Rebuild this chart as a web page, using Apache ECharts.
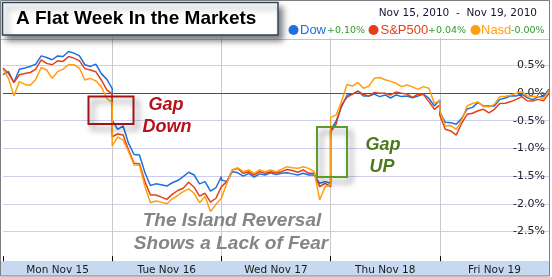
<!DOCTYPE html>
<html><head><meta charset="utf-8">
<script src="https://cdn.jsdelivr.net/npm/echarts@6/dist/echarts.min.js"></script>
<style>html,body{margin:0;padding:0;background:#fff}#c{width:552px;height:277px}</style>
</head><body><div id="c"></div>
<script>
// Day labels (x axis categories)
var days = ['Mon Nov 15', 'Tue Nov 16', 'Wed Nov 17', 'Thu Nov 18', 'Fri Nov 19'];
// Y tick labels (percent)
var yTicks = [-2.5, -2.0, -1.5, -1.0, -0.5, 0.0, 0.5];
// 21 samples per trading day (open to close), % change
var dowMon = [0.33,0.385,0.19,0.43,0.45,0.48,0.52,0.67,0.64,0.60,0.67,0.66,0.75,0.72,0.67,0.51,0.48,0.52,0.35,0.25,0.08];
var dowTue = [-0.49,-0.655,-0.595,-0.91,-1.11,-1.12,-1.44,-1.67,-1.64,-1.655,-1.68,-1.62,-1.58,-1.51,-1.43,-1.48,-1.64,-1.60,-1.77,-1.71,-1.51];
var dowWed = [-1.57,-1.60,-1.42,-1.44,-1.50,-1.45,-1.52,-1.46,-1.48,-1.44,-1.47,-1.45,-1.44,-1.46,-1.48,-1.45,-1.48,-1.48,-1.63,-1.60,-1.63];
var dowThu = [-0.67,-0.51,-0.25,-0.04,-0.02,0.035,-0.055,-0.055,-0.02,-0.065,-0.035,-0.09,-0.035,-0.065,-0.055,-0.085,-0.055,-0.02,-0.095,-0.235,-0.125];
var dowFri = [-0.34,-0.53,-0.535,-0.565,-0.46,-0.29,-0.26,-0.17,-0.235,-0.235,-0.235,-0.115,-0.09,-0.05,-0.055,-0.02,-0.085,-0.12,-0.07,-0.065,0.07];

var spMon = [0.45,0.355,0.19,0.33,0.35,0.37,0.43,0.60,0.535,0.51,0.58,0.57,0.66,0.63,0.58,0.44,0.415,0.385,0.235,0.055,-0.02];
var spTue = [-0.79,-0.74,-0.76,-1.03,-1.27,-1.275,-1.60,-1.84,-1.84,-1.88,-1.92,-1.83,-1.76,-1.72,-1.61,-1.70,-1.86,-1.81,-1.97,-1.90,-1.69];
var spWed = [-1.68,-1.60,-1.39,-1.36,-1.45,-1.42,-1.48,-1.42,-1.45,-1.42,-1.44,-1.42,-1.38,-1.40,-1.43,-1.39,-1.45,-1.45,-1.69,-1.63,-1.69];
var spThu = [-0.70,-0.565,-0.215,-0.08,-0.02,0.035,-0.025,-0.055,0.01,-0.005,-0.005,-0.035,0.02,-0.005,-0.02,-0.08,-0.02,-0.025,-0.155,-0.295,-0.215];
var spFri = [-0.40,-0.655,-0.685,-0.76,-0.55,-0.385,-0.365,-0.32,-0.295,-0.36,-0.295,-0.19,-0.185,-0.155,-0.115,-0.065,-0.14,-0.145,-0.115,-0.14,-0.005];

var nasdMon = [0.43,0.265,-0.05,0.205,0.155,0.14,0.245,0.46,0.415,0.265,0.385,0.43,0.51,0.51,0.45,0.235,0.265,0.22,0.115,-0.095,-0.175];
var nasdTue = [-0.96,-0.79,-0.85,-1.06,-1.30,-1.305,-1.69,-1.98,-1.95,-1.97,-2.00,-1.91,-1.85,-1.78,-1.73,-1.81,-1.98,-1.87,-2.14,-2.01,-1.90];
var nasdWed = [-1.90,-1.63,-1.39,-1.35,-1.42,-1.39,-1.45,-1.39,-1.42,-1.39,-1.42,-1.38,-1.33,-1.35,-1.36,-1.33,-1.36,-1.42,-1.93,-1.69,-1.66];
var nasdThu = [-0.44,-0.40,-0.155,0.155,0.125,0.19,0.085,0.125,0.265,0.28,0.24,0.21,0.175,0.115,0.145,0.11,0.065,0.115,0.085,-0.185,-0.14];
var nasdFri = [-0.31,-0.595,-0.585,-0.655,-0.49,-0.235,-0.19,-0.16,-0.245,-0.25,-0.205,-0.065,-0.06,-0.04,-0.005,0.025,-0.055,-0.065,-0.065,-0.11,0.04];

// Legend texts
var seriesNames = ['Dow', 'S&P500', 'Nasd'];
var weekChange = ['+0.10%', '+0.04%', '-0.00%'];
var dateRange = 'Nov 15, 2010  -  Nov 19, 2010';
var titleText = 'A Flat Week In the Markets';

function build(perDay) {
  var out = [];
  for (var d = 0; d < perDay.length; d++) {
    var arr = perDay[d];
    for (var k = 0; k < arr.length; k++) {
      out.push([d + k / (arr.length - 1), arr[k]]);
    }
  }
  return out;
}
var dowData = build([dowMon, dowTue, dowWed, dowThu, dowFri]);
var spData = build([spMon, spTue, spWed, spThu, spFri]);
var nasdData = build([nasdMon, nasdTue, nasdWed, nasdThu, nasdFri]);

var colors = ['#1f6fdc', '#e2401b', '#ff9e0f'];
var chart = echarts.init(document.getElementById('c'), null, {renderer: 'canvas'});
var lineW = 1.5;
var shadowBox = {shadowBlur: 6, shadowOffsetX: 4, shadowOffsetY: 5, shadowColor: 'rgba(0,0,0,0.5)'};

chart.setOption({
  animation: false,
  backgroundColor: '#fff',
  grid: {left: 3, right: 3, top: 37.6, height: 221.6},
  xAxis: [
    {type: 'value', min: 0, max: 5, interval: 1,
     axisLabel: {show: false}, axisLine: {show: false}, axisTick: {show: false},
     splitLine: {show: true, showMinLine: false, showMaxLine: false, lineStyle: {color: '#c9c9c9', width: 1}}},
    {type: 'category', data: days, boundaryGap: true, position: 'bottom', offset: 2,
     axisLine: {show: false},
     axisTick: {show: true, inside: true, length: 5, lineStyle: {color: '#000', width: 1}},
     axisLabel: {margin: 3.5, color: '#1a1a1a', fontSize: 10.5, fontFamily: 'DejaVu Sans'},
     splitLine: {show: false}}
  ],
  yAxis: {type: 'value', position: 'right', min: -3, max: 1, interval: 0.5,
    axisLine: {show: false}, axisTick: {show: false},
    axisLabel: {inside: true, margin: 4, color: '#222', fontSize: 11, fontFamily: 'DejaVu Sans',
      verticalAlign: 'middle', padding: [0, 0, 7, 0],
      formatter: function (v) {
        for (var i = 0; i < yTicks.length; i++) { if (Math.abs(yTicks[i] - v) < 1e-9) return yTicks[i].toFixed(1) + '%'; }
        return '';
      }},
    splitLine: {show: true, showMinLine: false, showMaxLine: false, lineStyle: {color: '#cfcdee', width: 1}}
  },
  series: [
    {name: seriesNames[0], type: 'line', data: dowData, showSymbol: false, xAxisIndex: 0,
     lineStyle: {color: colors[0], width: lineW}, itemStyle: {color: colors[0]}, z: 3,
     markLine: {silent: true, symbol: 'none', label: {show: false}, data: [{yAxis: 0}],
       lineStyle: {color: '#84393a', width: 1, type: 'solid'}, z: 1}},
    {name: seriesNames[1], type: 'line', data: spData, showSymbol: false, xAxisIndex: 0,
     lineStyle: {color: colors[1], width: lineW}, itemStyle: {color: colors[1]}, z: 4},
    {name: seriesNames[2], type: 'line', data: nasdData, showSymbol: false, xAxisIndex: 0,
     lineStyle: {color: colors[2], width: lineW}, itemStyle: {color: colors[2]}, z: 5}
  ],
  graphic: [
    {type: 'rect', z: -10, shape: {x: 1, y: 261, width: 548, height: 15}, style: {fill: '#c6d9f1'}},
    {type: 'line', z: 10, shape: {x1: 1, y1: 39.5, x2: 549, y2: 39.5}, style: {stroke: '#c4c4c4', lineWidth: 1}},
    {type: 'rect', z: 20, shape: {x: 0.5, y: 0.5, width: 549, height: 275.5}, style: {fill: 'none', stroke: '#7f7f7f', lineWidth: 1}},
    {type: 'rect', z: 15, shape: {x: 2.5, y: 2.5, width: 275.5, height: 32.5},
     style: Object.assign({fill: '#fff', stroke: '#2f4560', lineWidth: 1.5}, shadowBox)},
    {type: 'text', z: 16, style: {text: titleText, x: 16, y: 18.5, font: 'bold 19px "Liberation Sans", Arial', fill: '#000', verticalAlign: 'middle', align: 'left'}},
    {type: 'text', z: 16, style: {text: dateRange, x: 537, y: 13.5, font: '10.5px "DejaVu Sans"', fill: '#141432', verticalAlign: 'middle', align: 'right'}},
    {type: 'circle', z: 16, shape: {cx: 293.5, cy: 30, r: 5}, style: {fill: colors[0]}},
    {type: 'text', z: 16, style: {text: seriesNames[0], x: 300, y: 30.5, font: '13px "Liberation Sans", Arial', fill: colors[0], verticalAlign: 'middle'}},
    {type: 'text', z: 16, style: {text: weekChange[0], x: 327, y: 31, font: '9.5px "DejaVu Sans"', fill: '#2e9a2e', verticalAlign: 'middle'}},
    {type: 'circle', z: 16, shape: {cx: 373.5, cy: 30, r: 5}, style: {fill: colors[1]}},
    {type: 'text', z: 16, style: {text: seriesNames[1], x: 380.5, y: 30.5, font: '13px "Liberation Sans", Arial', fill: colors[1], verticalAlign: 'middle'}},
    {type: 'text', z: 16, style: {text: weekChange[1], x: 428, y: 31, font: '9.5px "DejaVu Sans"', fill: '#2e9a2e', verticalAlign: 'middle'}},
    {type: 'circle', z: 16, shape: {cx: 475.5, cy: 30, r: 5}, style: {fill: colors[2]}},
    {type: 'text', z: 16, style: {text: seriesNames[2], x: 481, y: 30.5, font: '13px "Liberation Sans", Arial', fill: colors[2], verticalAlign: 'middle'}},
    {type: 'text', z: 16, style: {text: weekChange[2], x: 511, y: 31, font: '9.5px "DejaVu Sans"', fill: '#2e9a2e', verticalAlign: 'middle'}},
    {type: 'rect', z: 12, shape: {x: 88.5, y: 96.5, width: 45, height: 27.5},
     style: Object.assign({fill: 'none', stroke: '#a31515', lineWidth: 2}, shadowBox)},
    {type: 'text', z: 12, style: {text: 'Gap', x: 166, y: 105, font: 'italic bold 18px "Liberation Sans", Arial', fill: '#b5121b', align: 'center', verticalAlign: 'middle'}},
    {type: 'text', z: 12, style: {text: 'Down', x: 167, y: 127, font: 'italic bold 18px "Liberation Sans", Arial', fill: '#b5121b', align: 'center', verticalAlign: 'middle'}},
    {type: 'rect', z: 12, shape: {x: 317, y: 127, width: 30, height: 50},
     style: Object.assign({fill: 'none', stroke: '#5f9a2c', lineWidth: 2}, shadowBox)},
    {type: 'text', z: 12, style: {text: 'Gap', x: 383, y: 145, font: 'italic bold 18px "Liberation Sans", Arial', fill: '#4a7a1c', align: 'center', verticalAlign: 'middle'}},
    {type: 'text', z: 12, style: {text: 'UP', x: 382, y: 167, font: 'italic bold 18px "Liberation Sans", Arial', fill: '#4a7a1c', align: 'center', verticalAlign: 'middle'}},
    {type: 'text', z: 12, style: {text: 'The Island Reversal', x: 232, y: 221, font: 'italic bold 19px "Liberation Sans", Arial', fill: '#858585', align: 'center', verticalAlign: 'middle'}},
    {type: 'text', z: 12, style: {text: 'Shows a Lack of Fear', x: 231, y: 244, font: 'italic bold 19px "Liberation Sans", Arial', fill: '#858585', align: 'center', verticalAlign: 'middle'}}
  ]
});
</script>
</body></html>
